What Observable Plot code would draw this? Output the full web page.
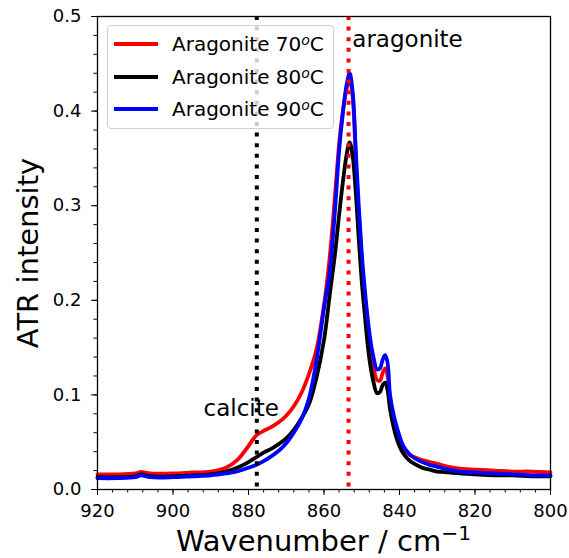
<!DOCTYPE html>
<html>
<head>
<meta charset="utf-8">
<script src="https://cdn.jsdelivr.net/npm/d3@7"></script>
<script src="https://cdn.jsdelivr.net/npm/@observablehq/plot@0.6"></script>
<style>
  html, body { margin: 0; padding: 0; background: white; }
  #wrap { position: relative; width: 569px; height: 558px; font-family: "DejaVu Sans", sans-serif; overflow: hidden; }
  #legend { position: absolute; left: 107px; top: 25px; width: 225px; height: 102px;
    border: 1px solid #d0d0d0; border-radius: 4px; background: rgba(255,255,255,0.8);
    font-family: "DejaVu Sans", sans-serif; font-size: 20px; color: black; }
  .row { position: absolute; left: 0; height: 0; }
  .swatch { position: absolute; left: 6px; width: 44px; height: 4px; top: -2px; }
  .lab { position: absolute; left: 64px; top: -12px; white-space: nowrap; line-height: 24px; }
  .lab sup { font-size: 0.7em; font-style: italic; vertical-align: 0.45em; line-height: 0; }
  #xlabel { position: absolute; left: 97px; width: 453px; top: 527px; text-align: center;
    font-family: "DejaVu Sans", sans-serif; font-size: 29px; line-height: 29px; color: black; white-space: nowrap; }
  #xlabel sup { font-size: 0.7em; vertical-align: 0.55em; line-height: 0; }
</style>
</head>
<body>
<div id="wrap"></div>
<script>
// ---- data ----
const wavenumber = [920, 915, 910, 908.5, 906, 900, 895, 890, 886, 883, 880, 878, 876, 874, 872, 870, 868, 866, 864, 862, 860, 858.5, 857, 856, 855, 854, 853.2, 852.4, 851.6, 850.8, 850, 849.2, 848.4, 847.6, 846.8, 846, 845.2, 844.4, 843.8, 843.2, 842.5, 841.5, 840.5, 839, 837.5, 836, 834, 832, 830, 827, 824, 820, 815, 810, 805, 800];
const aragonite70 = [0.016, 0.016, 0.017, 0.0185, 0.017, 0.017, 0.018, 0.019, 0.023, 0.031, 0.046, 0.057, 0.062, 0.066, 0.071, 0.078, 0.088, 0.102, 0.122, 0.148, 0.195, 0.245, 0.315, 0.365, 0.400, 0.424, 0.433, 0.415, 0.350, 0.290, 0.242, 0.203, 0.170, 0.146, 0.128, 0.116, 0.115, 0.124, 0.128, 0.121, 0.095, 0.074, 0.058, 0.044, 0.037, 0.034, 0.031, 0.029, 0.027, 0.024, 0.022, 0.021, 0.020, 0.019, 0.019, 0.018];
const aragonite80 = [0.013, 0.013, 0.014, 0.016, 0.014, 0.014, 0.015, 0.016, 0.019, 0.023, 0.029, 0.034, 0.039, 0.043, 0.048, 0.054, 0.063, 0.075, 0.090, 0.118, 0.158, 0.205, 0.252, 0.290, 0.325, 0.354, 0.367, 0.352, 0.315, 0.265, 0.220, 0.185, 0.152, 0.128, 0.112, 0.102, 0.103, 0.111, 0.113, 0.106, 0.085, 0.065, 0.051, 0.038, 0.031, 0.027, 0.023, 0.021, 0.019, 0.018, 0.017, 0.016, 0.015, 0.015, 0.014, 0.014];
const aragonite90 = [0.012, 0.012, 0.013, 0.015, 0.013, 0.013, 0.014, 0.015, 0.017, 0.019, 0.023, 0.026, 0.030, 0.035, 0.041, 0.049, 0.060, 0.074, 0.096, 0.136, 0.192, 0.230, 0.300, 0.358, 0.398, 0.428, 0.440, 0.420, 0.360, 0.300, 0.250, 0.212, 0.180, 0.155, 0.138, 0.127, 0.128, 0.138, 0.142, 0.135, 0.100, 0.078, 0.063, 0.046, 0.038, 0.033, 0.029, 0.026, 0.024, 0.021, 0.019, 0.018, 0.017, 0.016, 0.015, 0.015];
const seriesLabels = ["Aragonite 70", "Aragonite 80", "Aragonite 90"];
const seriesColors = ["#ff0000", "#000000", "#0000ff"];
const xTicks = [920, 900, 880, 860, 840, 820, 800];
const xMinorTicks = d3.range(920, 799, -4);
const yTicks = [0.0, 0.1, 0.2, 0.3, 0.4, 0.5];
const yMinorTicks = d3.range(0, 0.501, 0.02);
const calciteLine = [877.8];
const aragoniteLine = [853.5];
const annotations = [
  {w: 852.5, v: 0.4676, text: "aragonite"},
  {w: 891.9, v: 0.0782, text: "calcite"}
];

// ---- build table ----
const seriesValues = [aragonite70, aragonite80, aragonite90];
const table = seriesValues.flatMap((vals, k) =>
  wavenumber.map((w, i) => ({w, v: vals[i], s: seriesLabels[k]})));

const chart = Plot.plot({
  width: 569,
  height: 558,
  marginLeft: 97,
  marginRight: 19,
  marginTop: 16,
  marginBottom: 69,
  style: {fontFamily: "DejaVu Sans", fontSize: "18px", background: "white", color: "black"},
  x: {domain: [920, 800]},
  y: {domain: [0, 0.5]},
  color: {domain: seriesLabels, range: seriesColors},
  marks: [
    seriesLabels.map(s => Plot.line(table.filter(d => d.s === s), {
      x: "w", y: "v", stroke: "s", strokeWidth: 3.8, curve: "catmull-rom"
    })),
    Plot.ruleX(calciteLine, {stroke: "black", strokeWidth: 4, strokeDasharray: "4,6.6"}),
    Plot.ruleX(aragoniteLine, {stroke: "#ff0000", strokeWidth: 4, strokeDasharray: "4,6.6"}),
    Plot.text(annotations, {x: "w", y: "v", text: "text", textAnchor: "start", lineAnchor: "bottom", fontSize: 23, fill: "black"}),
    Plot.frame({stroke: "black", strokeWidth: 1.3}),
    Plot.axisX({ticks: xTicks, tickSize: 6, tickPadding: 9, tickFormat: d => String(d), fontSize: 18, label: null}),
    Plot.axisX({ticks: xMinorTicks, tickSize: 3.5, text: null, label: null}),
    Plot.axisY({ticks: yTicks, tickSize: 6, tickPadding: 10, tickFormat: d3.format(".1f"), fontSize: 18, label: null}),
    Plot.axisY({ticks: yMinorTicks, tickSize: 3.5, text: null, label: null}),
    Plot.text(["ATR intensity"], {frameAnchor: "left", dx: -60, rotate: -90, textAnchor: "middle", lineAnchor: "bottom", fontSize: 29, fill: "black"})
  ]
});

const wrap = document.getElementById("wrap");
wrap.appendChild(chart);

// x axis label with superscript
const xl = document.createElement("div");
xl.id = "xlabel";
xl.innerHTML = "Wavenumber / cm<sup>\u22121</sup>";
wrap.appendChild(xl);

// legend
const legend = document.createElement("div");
legend.id = "legend";
const rowY = [18, 50.5, 82.5];
seriesLabels.forEach((s, i) => {
  const row = document.createElement("div");
  row.className = "row";
  row.style.top = rowY[i] + "px";
  const sw = document.createElement("div");
  sw.className = "swatch";
  sw.style.background = seriesColors[i];
  const lab = document.createElement("div");
  lab.className = "lab";
  lab.innerHTML = s + "<sup>o</sup>C";
  row.appendChild(sw);
  row.appendChild(lab);
  legend.appendChild(row);
});
wrap.appendChild(legend);
</script>
</body>
</html>
